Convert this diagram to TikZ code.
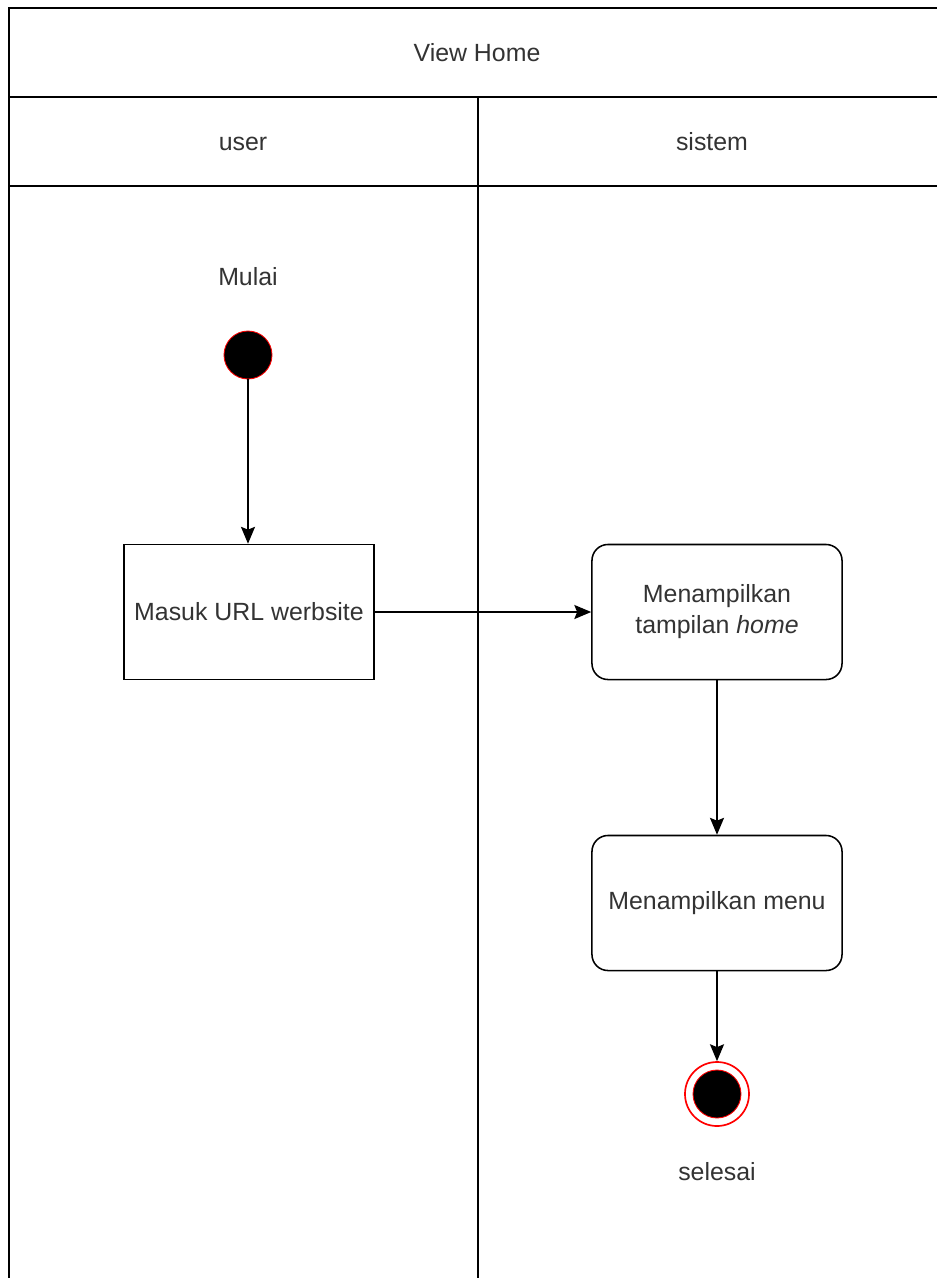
\documentclass[tikz,border=0pt]{standalone}
\usepackage{fontspec}
\setmainfont{Liberation Sans}
\usetikzlibrary{arrows.meta}

\definecolor{txtGrey}{HTML}{333333}
\def \txtSize {\fontsize{17.7}{22}\selectfont}
\def \laneLine {1.3pt}

\begin{document}
\begin{tikzpicture}[x=0.025cm, y=-0.025cm,
      every node/.style={font=\txtSize, text=txtGrey},
      lbl/.style={text height=0.72em, text depth=0.22em},
      act/.style={draw, line width=1.1pt, minimum width=6.25cm, minimum height=3.375cm, align=center, inner sep=2pt},
      actround/.style={act, rounded corners=0.4cm},
      flow/.style={-{Stealth[length=12pt, width=10pt, inset=2pt]}, line width=1.1pt},
      startdot/.style={circle, draw=red, fill=black, line width=0.6pt, minimum size=1.2cm, inner sep=0pt},
      endring/.style={circle, draw=red, line width=1.2pt, minimum size=1.6cm, inner sep=0pt}]
         \useasboundingbox (0,0) rectangle (937,1278);
         % lanes
         \draw[line width=\laneLine] (937,8) -- (9,8) -- (9,1278);
         \draw[line width=\laneLine] (9,97) -- (937,97);
         \draw[line width=\laneLine] (9,186) -- (937,186);
         \draw[line width=\laneLine] (478,97) -- (478,1278);
         \node[lbl] (title) at (477,58) {View Home};
         \node[lbl] (laneUser) at (243,147) {user};
         \node[lbl] (laneSys) at (712,147) {sistem};
         % user side
         \node[lbl] (mulai) at (248,282) {Mulai};
         \node[startdot] (start) at (248,355) {};
         \node[act] (masuk) at (249,612) {Masuk URL werbsite};
         % sistem side
         \node[actround] (home) at (717,612) {Menampilkan\\tampilan \textit{home}};
         \node[actround] (menu) at (717,903) {Menampilkan menu};
         \node[endring] (stop) at (717,1094) {};
         \node[startdot] (stopDot) at (717,1094) {};
         \node[lbl] (selesai) at (717,1177) {selesai};
         % flows
         \draw[flow] (start) -- (start |- masuk.north);
         \draw[flow] (masuk) -- (home);
         \draw[flow] (home) -- (menu);
         \draw[flow] (menu) -- (stop);
      \end{tikzpicture}
\end{document}
